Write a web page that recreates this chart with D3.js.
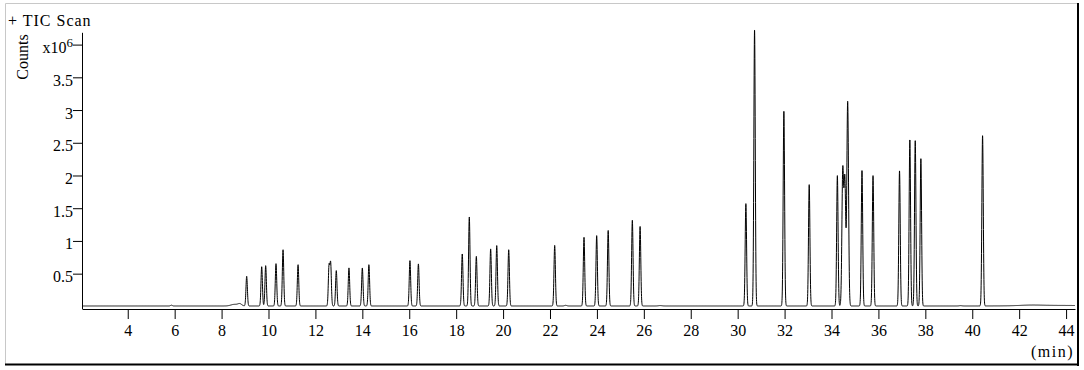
<!DOCTYPE html>
<html>
<head>
<meta charset="utf-8">
<script src="https://cdn.jsdelivr.net/npm/d3@7"></script>
<style>
  body { margin: 0; background: #fff; }
  svg text { font-family: "Liberation Serif", "DejaVu Serif", serif; font-size: 16px; fill: #000; }
</style>
</head>
<body>
<div id="chart"></div>
<script>
// peaks: retention time (min), apex height (x10^6 counts), width sigma (min)
var peakTimes   = [5.86, 8.55, 8.78, 9.07, 9.71, 9.88, 10.32, 10.62, 11.26, 12.58, 12.65, 12.89, 13.43, 14.00, 14.28,
                   16.03, 16.39, 18.26, 18.56, 18.86, 19.47, 19.73, 20.24, 22.20, 22.67, 23.45, 23.99, 24.48, 25.51, 25.84,
                   26.70, 30.35, 30.72, 31.97, 33.05, 34.25, 34.48, 34.57, 34.69, 35.30, 35.77, 36.90, 37.34, 37.57, 37.81,
                   39.50, 40.44, 42.50];
var peakHeights = [0.012, 0.025, 0.030, 0.454, 0.600, 0.617, 0.648, 0.861, 0.632, 0.600, 0.640, 0.541, 0.582, 0.582, 0.632,
                   0.693, 0.643, 0.796, 1.361, 0.759, 0.872, 0.923, 0.861, 0.927, 0.010, 1.049, 1.075, 1.156, 1.309, 1.217,
                   0.006, 1.564, 4.222, 2.974, 1.854, 1.992, 2.050, 1.900, 3.120, 2.073, 1.992, 2.068, 2.542, 2.526, 2.251,
                   0.005, 2.607, 0.008];
var peakSigmas  = [0.04, 0.15, 0.08, 0.03, 0.03, 0.03, 0.03, 0.03, 0.03, 0.03, 0.03, 0.03, 0.03, 0.03, 0.03,
                   0.03, 0.03, 0.03, 0.03, 0.03, 0.03, 0.03, 0.03, 0.03, 0.05, 0.03, 0.03, 0.03, 0.03, 0.03,
                   0.08, 0.03, 0.03, 0.03, 0.03, 0.03, 0.036, 0.036, 0.036, 0.03, 0.03, 0.03, 0.03, 0.03, 0.03,
                   0.06, 0.03, 0.45];
var baselineLevel = 0.006;
var driftCentre = 43.6, driftHeight = 0.009, driftSigma = 1.3;

var timeRange = [2.05, 44.38];
var xTicks = [4, 6, 8, 10, 12, 14, 16, 18, 20, 22, 24, 26, 28, 30, 32, 34, 36, 38, 40, 42, 44];
var yTicks = [0.5, 1, 1.5, 2, 2.5, 3, 3.5, 4];
var yMin = -0.04, yMax = 4, yAxisTop = 4.18;

var width = 1084, height = 370;
var plot = { left: 82, right: 1075, bottom: 309, top4: 44.6 };
var labelFont = "'Liberation Serif', 'DejaVu Serif', serif";

var svg = d3.select("#chart").append("svg")
  .attr("width", width)
  .attr("height", height);

// window frame
svg.append("line").attr("x1", 5.5).attr("x2", 5.5).attr("y1", 3.5).attr("y2", 364)
  .attr("stroke", "#c8c8c8");
svg.append("line").attr("x1", 5.5).attr("x2", 1078).attr("y1", 3.5).attr("y2", 3.5)
  .attr("stroke", "#c8c8c8");
svg.append("line").attr("x1", 1078).attr("x2", 1078).attr("y1", 3).attr("y2", 366)
  .attr("stroke", "#000").attr("stroke-width", 2);
svg.append("line").attr("x1", 5).attr("x2", 1079).attr("y1", 364.5).attr("y2", 364.5)
  .attr("stroke", "#000").attr("stroke-width", 2);

var x = d3.scaleLinear().domain(timeRange).range([plot.left, plot.right]);
var y = d3.scaleLinear().domain([yMin, yMax]).range([plot.bottom, plot.top4]);

// build the trace from the peak table
function signal(t) {
  var v = baselineLevel + driftHeight * Math.exp(-0.5 * Math.pow((t - driftCentre) / driftSigma, 2));
  for (var i = 0; i < peakTimes.length; i++) {
    var z = (t - peakTimes[i]) / peakSigmas[i];
    if (Math.abs(z) < 8) v += peakHeights[i] * Math.exp(-0.5 * z * z);
  }
  return v;
}
var trace = [];
for (var t = timeRange[0]; t <= timeRange[1]; t += 0.004) {
  trace.push([t, signal(t)]);
}

var line = d3.line()
  .x(function (d) { return x(d[0]); })
  .y(function (d) { return y(d[1]); });

svg.append("path")
  .datum(trace)
  .attr("fill", "none")
  .attr("stroke", "#000")
  .attr("stroke-width", 1)
  .attr("d", line);

// x axis
var xAxis = svg.append("g")
  .attr("transform", "translate(0," + plot.bottom + ")")
  .call(d3.axisBottom(x).tickValues(xTicks).tickSize(10).tickPadding(6).tickSizeOuter(0))
  .attr("font-family", labelFont)
  .attr("font-size", 16);

// y axis
var fmt = d3.format("");
var yAxis = svg.append("g")
  .attr("transform", "translate(" + plot.left + ",0)")
  .call(d3.axisLeft(y).tickValues(yTicks).tickSize(9).tickPadding(0)
    .tickFormat(function (d) { return d === 4 ? "x10" : fmt(d); }))
  .attr("font-family", labelFont)
  .attr("font-size", 16);
yAxis.select(".domain").remove();
yAxis.selectAll(".tick text").attr("dy", "0.5em");
yAxis.selectAll(".tick text")
  .filter(function (d) { return d === 4; })
  .append("tspan")
  .attr("dy", "-0.45em")
  .style("font-size", "13px")
  .text("6");
yAxis.append("line")
  .attr("x1", 0.5).attr("x2", 0.5)
  .attr("y1", y(yAxisTop)).attr("y2", plot.bottom)
  .attr("stroke", "#000");

// titles
svg.append("text")
  .attr("x", 8).attr("y", 26)
  .style("letter-spacing", "1px")
  .text("+ TIC Scan");

svg.append("text")
  .attr("transform", "translate(28,57) rotate(-90)")
  .attr("text-anchor", "middle")
  .text("Counts");

svg.append("text")
  .attr("x", 1074).attr("y", 357)
  .attr("text-anchor", "end")
  .style("letter-spacing", "1.5px")
  .text("(min)");
</script>
</body>
</html>
